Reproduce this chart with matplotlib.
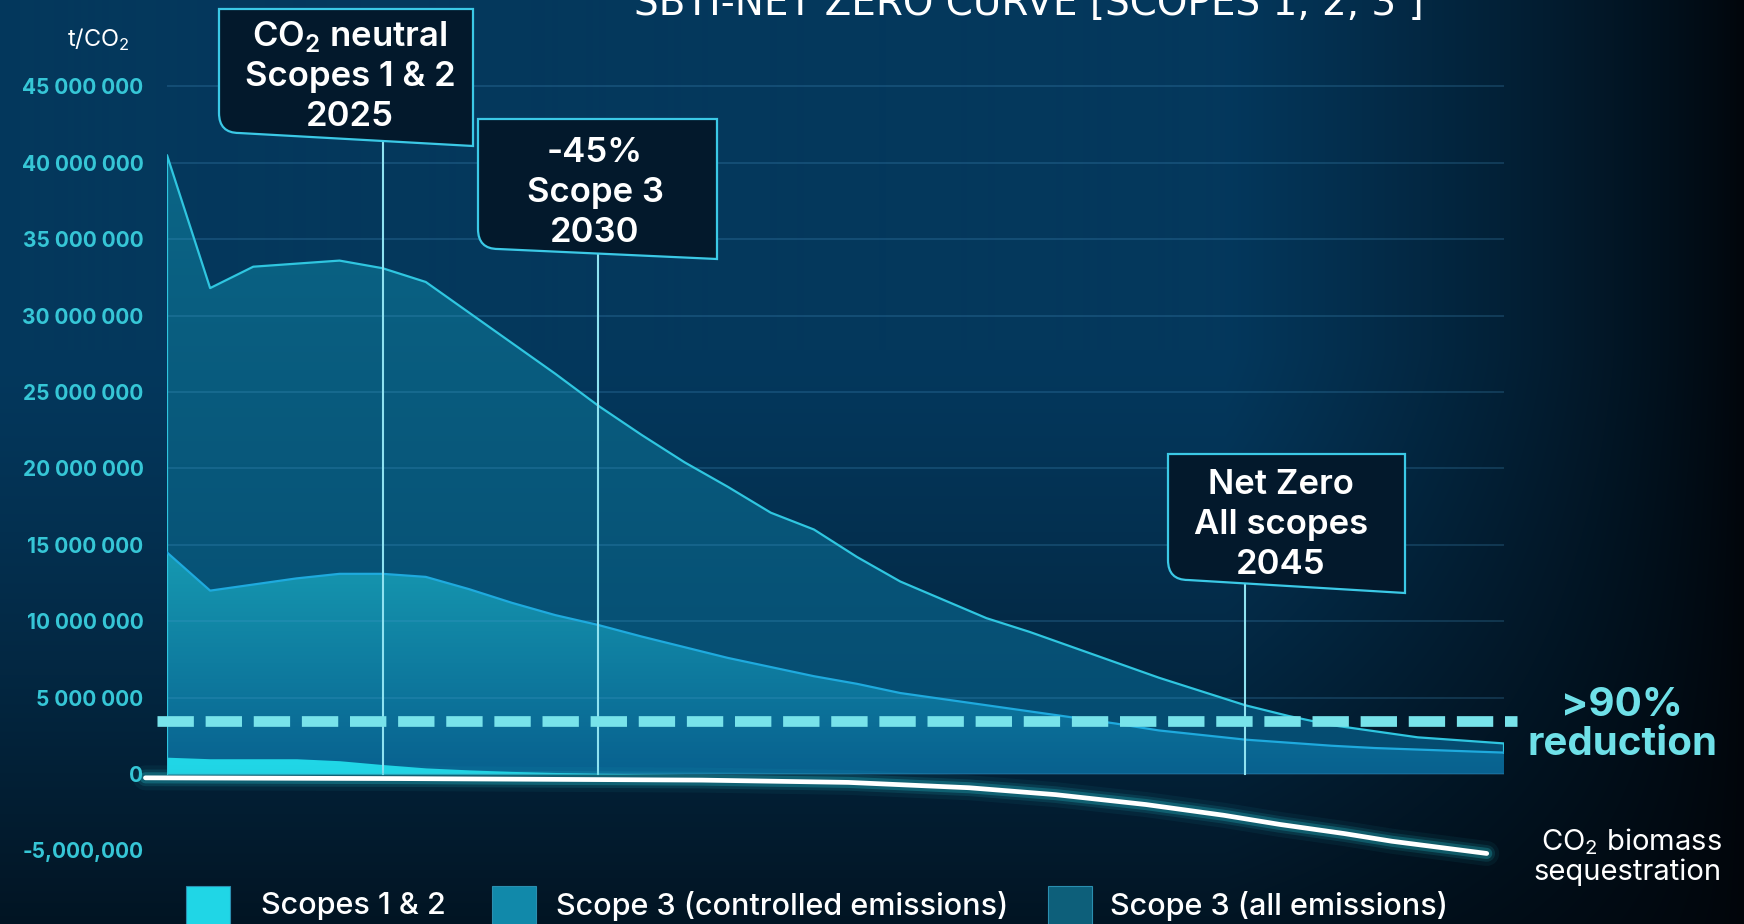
import numpy as np
import matplotlib.pyplot as plt
from matplotlib.path import Path
from matplotlib.patches import PathPatch, Rectangle

plt.rcParams['font.family'] = ['Inter', 'DejaVu Sans']
plt.rcParams['mathtext.fontset'] = 'custom'
plt.rcParams['mathtext.rm'] = 'Inter'

W, H = 1744, 924
MT = 1e6  # values below are in million tonnes

# emissions per year, million t CO2
years = list(range(2020, 2052))
scope3_all = [40.5, 31.8, 33.2, 33.4, 33.6, 33.1, 32.2, 30.2, 28.2, 26.2,
              24.1, 22.2, 20.4, 18.8, 17.1, 16.0, 14.2, 12.6, 11.4, 10.2,
              9.3, 8.3, 7.3, 6.3, 5.4, 4.5, 3.8, 3.2, 2.8, 2.4,
              2.2, 2.0]
scope3_controlled = [14.5, 12.0, 12.4, 12.8, 13.1, 13.1, 12.9, 12.1, 11.2, 10.4,
                     9.75, 9.0, 8.3, 7.6, 7.0, 6.4, 5.9, 5.3, 4.9, 4.5,
                     4.1, 3.7, 3.3, 2.85, 2.55, 2.25, 2.05, 1.85, 1.7, 1.6,
                     1.5, 1.4]
scopes_12 = [1.1, 1.0, 1.0, 1.0, 0.87, 0.62, 0.4, 0.27, 0.17, 0.1,
             0.05, 0.02, 0, 0, 0, 0, 0, 0, 0, 0,
             0, 0, 0, 0, 0, 0, 0, 0, 0, 0,
             0, 0]

# biomass sequestration curve
bio_years = [2019.5, 2025.4, 2032.4, 2035.8, 2038.6, 2040.6, 2042.7, 2044.5,
             2045.8, 2047.3, 2048.4, 2050.6]
bio_values = [-0.25, -0.3, -0.4, -0.55, -0.9, -1.35, -2.0, -2.7,
              -3.3, -3.9, -4.4, -5.2]

reduction_level = 3.5

milestone_years = [2025, 2030, 2045]
milestone_lines = [["CO$_\\mathregular{2}$ neutral", "Scopes 1 & 2", "2025"],
                   ["-45%", "Scope 3", "2030"],
                   ["Net Zero", "All scopes", "2045"]]

y_ticks = [-5, 0, 5, 10, 15, 20, 25, 30, 35, 40, 45]
legend_labels = ["Scopes 1 & 2", "Scope 3 (controlled emissions)",
                 "Scope 3 (all emissions)"]
legend_colors = ["#20d6e6", "#1189aa", "#0d5f7a"]


def fx(px):
    return px / W


def fy(py):
    return 1 - py / H


def hex_rgb(c):
    c = c.lstrip('#')
    return np.array([int(c[i:i + 2], 16) for i in (0, 2, 4)]) / 255


def gradient_fill(ax, x, y, top, bottom, zorder):
    poly = ax.fill_between(x, 0, y, color='none', lw=0, zorder=zorder)
    t = np.linspace(0, 1, 256)[:, None, None]
    img = hex_rgb(top) + (hex_rgb(bottom) - hex_rgb(top)) * t
    im = ax.imshow(img, extent=[x[0], x[-1], 0, max(y)], aspect='auto',
                   origin='upper', zorder=zorder, interpolation='bilinear')
    im.set_clip_path(poly.get_paths()[0], transform=ax.transData)


fig = plt.figure(figsize=(W / 100, H / 100), dpi=100)

# background glow
bg = fig.add_axes([0, 0, 1, 1], zorder=-10)
bg.axis('off')
yy, xx = np.mgrid[0:H, 0:W]
hx = np.clip((W - xx) / 520, 0, 1) ** 0.8
hy = 1 - 0.7 * np.clip((yy - 350) / 574, 0, 1) ** 1.3
f = (hx * hy)[..., None]
light, dark = hex_rgb('#04385d'), hex_rgb('#01050a')
bg.imshow(dark + (light - dark) * f, extent=[0, 1, 0, 1], aspect='auto')
bg.set_xlim(0, 1)
bg.set_ylim(0, 1)

# main axes: 0 sits at y=774px, 15.28px per million tonnes
y_lo, y_hi = -6.5, 47
top_px = 774 - 15.28 * y_hi
bot_px = 774 - 15.28 * y_lo
ax = fig.add_axes([fx(167), fy(bot_px), fx(1504) - fx(167), (bot_px - top_px) / H])
ax.patch.set_alpha(0)

all_v = np.array(scope3_all) * MT
ctrl_v = np.array(scope3_controlled) * MT
s12_v = np.array(scopes_12) * MT

gradient_fill(ax, years, all_v, '#0b6586', '#054b70', 2)
gradient_fill(ax, years, ctrl_v, '#1699b1', '#08618f', 2.1)
ax.fill_between(years, 0, s12_v, color='#20d6e6', lw=0, zorder=2.2)

for v in range(0, 46, 5):
    ax.axhline(v * MT, color='#4a9ccc', alpha=0.22, lw=1.4, zorder=3)

ax.plot([years[0]] + years + [years[-1]], [0] + list(all_v) + [ctrl_v[-1]],
        color='#2fc6e0', lw=1.6, zorder=4)
ax.plot(years, ctrl_v, color='#1eaade', lw=1.6, zorder=4)

ax.set_xlim(2020, 2051)
ax.set_ylim(y_lo * MT, y_hi * MT)

# milestone boxes (pixel layout) and their leader lines
boxes = [(219, 473, 9, 133, 146), (478, 717, 119, 249, 259),
         (1168, 1405, 454, 580, 593)]
text_centers = [(350, 77), (595, 193), (1281, 525)]
inv = ax.transData.inverted()
for yr, (l, r, t, bl, br) in zip(milestone_years, boxes):
    rad = 20
    verts = [(l, t), (r, t), (r, br), (l + rad, bl), (l, bl), (l, bl - rad), (l, t)]
    codes = [Path.MOVETO, Path.LINETO, Path.LINETO, Path.LINETO,
             Path.CURVE3, Path.CURVE3, Path.CLOSEPOLY]
    verts = [(fx(a), fy(b)) for a, b in verts]
    fig.add_artist(PathPatch(Path(verts, codes), transform=fig.transFigure,
                             facecolor='#03192c', edgecolor='#3bc9e6', lw=1.6,
                             zorder=8))
    xpix = ax.transData.transform((yr, 0))[0] / fig.dpi * 100
    frac = (xpix - l) / (r - l)
    y_edge = bl + (br - bl) * frac
    top_val = inv.transform(fig.transFigure.transform((0, fy(y_edge))))[1]
    ax.plot([yr, yr], [0, top_val], color='#8fe2f0', lw=1.5, zorder=5,
            clip_on=False)

for lines, (cx, cy) in zip(milestone_lines, text_centers):
    for i, line in enumerate(lines):
        fig.text(fx(cx), fy(cy + (i - 1) * 40), line, ha='center', va='center',
                 fontsize=25, color='white', fontweight='semibold', zorder=9)

# >90% reduction threshold
ax.plot([2019.77, 2051.3], [reduction_level * MT] * 2, color='#78e3ea', lw=7.7,
        dashes=(3.4, 1.1), dash_capstyle='butt', clip_on=False, zorder=6)

# biomass sequestration with glow
bio_v = np.array(bio_values) * MT
for lw, a in [(18, 0.06), (12, 0.12), (8, 0.25)]:
    ax.plot(bio_years, bio_v, color='#2ad0dc', lw=lw, alpha=a,
            solid_capstyle='round', clip_on=False, zorder=7)
ax.plot(bio_years, bio_v, color='white', lw=3.4, solid_capstyle='round',
        solid_joinstyle='round', clip_on=False, zorder=7.5)

# axis styling
for s in ax.spines.values():
    s.set_visible(False)
ax.set_xticks([])
ax.set_yticks([t * MT for t in y_ticks])
tick_labels = [f"{int(t * MT):,}" if t < 0 else f"{int(t * MT):,}".replace(",", " ")
               for t in y_ticks]
ax.set_yticklabels(tick_labels, fontweight='bold')
ax.tick_params(axis='y', length=0, pad=17, labelcolor='#36c6d6', labelsize=15)

fig.text(fx(98), fy(40), "t/CO$_\\mathregular{2}$", ha='center', va='center',
         fontsize=17, color='white')
fig.text(fx(1029), fy(15), "SBTI-NET ZERO CURVE [SCOPES 1, 2, 3 ]", ha='center',
         va='baseline', fontsize=28, color='white',
         family=['Liberation Sans Narrow', 'DejaVu Sans'])
fig.text(fx(1622), fy(725), ">90%\nreduction", ha='center', va='center',
         fontsize=29, fontweight='bold', color='#6fe0e8', linespacing=1.05)
fig.text(fx(1722), fy(856), "CO$_\\mathregular{2}$ biomass\nsequestration",
         ha='right', va='center', multialignment='right', fontsize=21,
         color='white', linespacing=1.1)

# legend row along the bottom edge
legend_x = [(186, 261), (492, 556), (1048, 1110)]
for (sx, tx), label, col in zip(legend_x, legend_labels, legend_colors):
    fig.add_artist(Rectangle((fx(sx), fy(930)), fx(44), 44 / H, transform=fig.transFigure,
                             facecolor=col, edgecolor='#2a8fb0', lw=0.8, zorder=8))
    fig.text(fx(tx), fy(906), label, ha='left', va='center', fontsize=22,
             color='white', fontweight='medium', zorder=9)

fig.savefig('out.png', dpi=100)
